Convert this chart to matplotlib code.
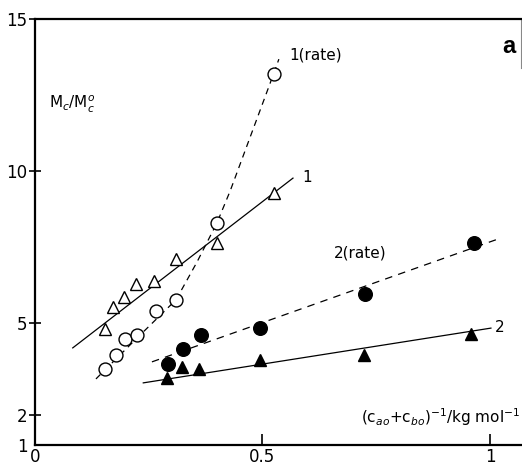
import matplotlib
matplotlib.use("Agg")
import matplotlib.pyplot as plt

# series 1: open symbols
tri1_x = [0.154, 0.172, 0.196, 0.222, 0.262, 0.309, 0.400, 0.525]
tri1_y = [4.81, 5.53, 5.86, 6.29, 6.39, 7.11, 7.64, 9.28]
circ1_x = [0.154, 0.178, 0.198, 0.224, 0.266, 0.310, 0.400, 0.525]
circ1_y = [3.50, 3.96, 4.48, 4.61, 5.40, 5.76, 8.30, 13.19]

# series 2: filled symbols
circ2_x = [0.293, 0.325, 0.365, 0.495, 0.725, 0.965]
circ2_y = [3.66, 4.15, 4.61, 4.84, 5.96, 7.64]
tri2_x = [0.290, 0.323, 0.360, 0.495, 0.723, 0.958]
tri2_y = [3.20, 3.56, 3.50, 3.79, 3.96, 4.65]

# drawn lines
line1_x = [0.083, 0.567]
line1_y = [4.19, 9.77]
rate1_x = [0.134, 0.222, 0.310, 0.356, 0.400, 0.429, 0.464, 0.525, 0.536]
rate1_y = [3.17, 4.48, 5.77, 7.01, 8.30, 9.35, 10.76, 13.22, 13.68]
line2_x = [0.238, 1.002]
line2_y = [3.04, 4.84]
rate2_x = [0.257, 1.018]
rate2_y = [3.73, 7.77]

yticks = [1, 2, 5, 10, 15]
xticks = [0, 0.5, 1]
xtick_labels = ["0", "0.5", "1"]

fig = plt.figure(figsize=(5.22, 4.63), dpi=100)
ax = fig.add_axes([0.067, 0.039, 0.931, 0.920])

lw = 0.9
ax.plot(line1_x, line1_y, color="black", lw=lw)
ax.plot(rate1_x, rate1_y, color="black", lw=lw, ls=(0, (5, 4)))
ax.plot(line2_x, line2_y, color="black", lw=lw)
ax.plot(rate2_x, rate2_y, color="black", lw=lw, ls=(0, (6, 5)))

ms = 9.3
ax.plot(tri1_x, tri1_y, ls="none", marker="^", ms=ms, mfc="white", mec="black", mew=1.0)
ax.plot(circ1_x, circ1_y, ls="none", marker="o", ms=ms, mfc="white", mec="black", mew=1.0)
ax.plot(circ2_x, circ2_y, ls="none", marker="o", ms=ms + 0.5, mfc="black", mec="black")
ax.plot(tri2_x, tri2_y, ls="none", marker="^", ms=ms, mfc="black", mec="black")

ax.set_xlim(0, 1.068)
ax.set_ylim(1, 15)

for side in ["left", "bottom", "top"]:
    ax.spines[side].set_linewidth(1.6)
ax.spines["right"].set_visible(False)
ax.plot([1, 1], [1, 0.885], transform=ax.transAxes, color="#888888", lw=0.8, clip_on=False)

ax.set_yticks(yticks)
ax.set_yticklabels([str(v) for v in yticks])
ax.set_xticks(xticks)
ax.set_xticklabels(xtick_labels)
ax.tick_params(axis="y", direction="inout", length=9, width=1.2, labelsize=12, pad=1)
ax.tick_params(axis="x", direction="in", length=8, width=1.2, labelsize=12, pad=2)
ax.yaxis.get_major_ticks()[0].tick1line.set_visible(False)
ax.xaxis.get_major_ticks()[0].tick1line.set_visible(False)

fs = 11
ax.text(0.030, 12.2, r"M$_c$/M$_c^o$", fontsize=fs, va="center", ha="left")
ax.text(0.560, 13.8, "1(rate)", fontsize=fs, va="center", ha="left")
ax.text(0.587, 9.8, "1", fontsize=fs, va="center", ha="left")
ax.text(0.657, 7.3, "2(rate)", fontsize=fs, va="center", ha="left")
ax.text(1.010, 4.85, "2", fontsize=fs, va="center", ha="left")
ax.text(1.066, 1.9, r"(c$_{ao}$+c$_{bo}$)$^{-1}$/kg mol$^{-1}$", fontsize=fs,
        va="center", ha="right")
ax.text(1.055, 14.1, "a", fontsize=17, fontweight="bold", family="Liberation Sans",
        va="center", ha="right")

fig.savefig("out.png", dpi=100)
